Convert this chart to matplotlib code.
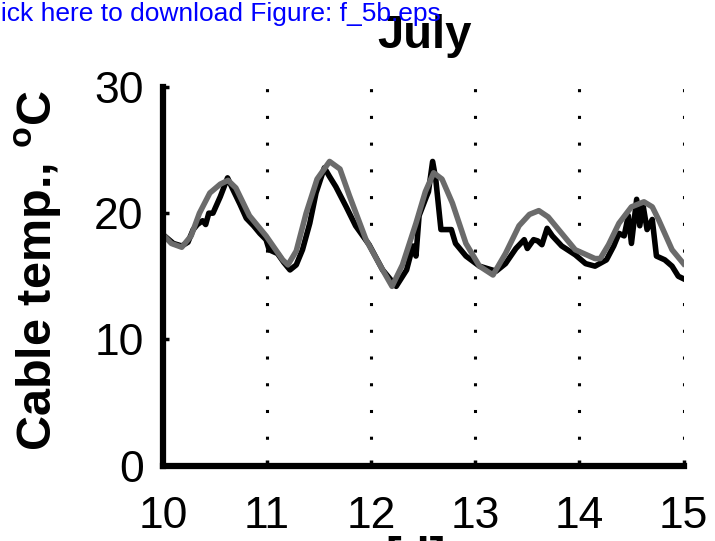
"""Cable temperature in July: measured vs. modelled."""
import numpy as np
import matplotlib
matplotlib.use("Agg")
import matplotlib.pyplot as plt

# =============================================================================
# DATA
# =============================================================================
# measured cable temperature (black)
day_meas = [10.00, 10.10, 10.18, 10.24, 10.29, 10.33, 10.38, 10.41, 10.44,
            10.48, 10.55, 10.62, 10.67, 10.74, 10.80, 10.87, 10.93, 10.99,
            11.02, 11.10, 11.16, 11.22, 11.28, 11.34, 11.41, 11.47, 11.55,
            11.60, 11.66, 11.76, 11.85, 11.98, 12.11, 12.24, 12.34, 12.40,
            12.43, 12.46, 12.53, 12.55, 12.59, 12.62, 12.67, 12.77, 12.81,
            12.91, 13.04, 13.20, 13.29, 13.39, 13.47, 13.50, 13.56, 13.60,
            13.64, 13.69, 13.74, 13.83, 13.96, 14.06, 14.15, 14.26, 14.33,
            14.38, 14.43, 14.47, 14.50, 14.55, 14.58, 14.61, 14.65, 14.70,
            14.74, 14.82, 14.89, 14.95, 15.00]
temp_meas = [18.3, 17.6, 17.4, 17.7, 18.7, 19.1, 19.4, 19.1, 20.0,
             20.0, 21.3, 22.8, 21.9, 20.7, 19.6, 19.0, 18.4, 17.9,
             17.1, 16.8, 16.1, 15.5, 15.9, 17.1, 19.2, 21.6, 23.6,
             22.9, 22.1, 20.5, 19.0, 17.5, 15.5, 14.2, 15.5, 17.4,
             16.6, 19.8, 21.3, 21.7, 24.1, 22.7, 18.7, 18.7, 17.6,
             16.6, 15.8, 15.4, 16.0, 17.2, 17.9, 17.2, 17.9, 17.8,
             17.5, 18.8, 18.2, 17.4, 16.7, 16.0, 15.8, 16.3, 17.4,
             18.4, 18.2, 19.8, 17.6, 21.1, 19.0, 20.7, 18.7, 19.5,
             16.6, 16.3, 15.8, 15.0, 14.8]

# modelled cable temperature (grey)
day_model = [10.00, 10.08, 10.18, 10.27, 10.35, 10.45, 10.55, 10.625,
             10.70, 10.83, 10.99, 11.15, 11.20, 11.28, 11.375, 11.48,
             11.60, 11.70, 11.79, 11.95, 12.11, 12.20, 12.30, 12.43,
             12.52, 12.60, 12.68, 12.78, 12.91, 13.04, 13.17, 13.29,
             13.42, 13.52, 13.61, 13.70, 13.80, 13.96, 14.15, 14.20,
             14.28, 14.38, 14.50, 14.62, 14.70, 14.76, 14.89, 15.00]
temp_model = [18.3, 17.6, 17.3, 18.2, 20.0, 21.6, 22.3, 22.6,
              22.0, 19.8, 18.2, 16.3, 15.9, 17.0, 20.0, 22.7,
              24.1, 23.5, 21.4, 17.9, 15.5, 14.2, 15.9, 19.2,
              21.7, 23.2, 22.7, 20.8, 17.6, 15.8, 15.1, 16.8,
              19.0, 19.9, 20.2, 19.7, 18.7, 17.1, 16.4, 16.4,
              17.5, 19.2, 20.5, 20.9, 20.5, 19.5, 17.1, 16.0]

x_ticks = [10, 11, 12, 13, 14, 15]
y_ticks = [0, 10, 20, 30]

# =============================================================================
# PLOT
# =============================================================================
W, H = 715, 541
plt.rcParams['font.family'] = ['Liberation Sans', 'DejaVu Sans']
plt.rcParams['mathtext.fontset'] = 'custom'
plt.rcParams['mathtext.bf'] = 'Liberation Sans:bold'
plt.rcParams['mathtext.rm'] = 'Liberation Sans'

fig = plt.figure(figsize=(W / 100, H / 100), dpi=100)
ax = fig.add_axes([163 / W, 1 - 465.5 / H, 520.5 / W, 378.5 / H])
ax.plot(day_meas, temp_meas, color='black', lw=4, solid_joinstyle='round')
ax.plot(day_model, temp_model, color='#6b6b6b', lw=4, solid_joinstyle='round')

ax.set_xlim(10, 15)
ax.set_ylim(0, 30)
ax.set_xticks(x_ticks)
ax.set_yticks(y_ticks)
ax.tick_params(direction='in', length=4, width=2.5, labelsize=32)
ax.tick_params(axis='x', pad=22)
ax.tick_params(axis='y', pad=14)

# dotted vertical grid like the original
for xt in x_ticks[1:]:
    ax.axvline(xt, color='black', lw=2.2, ls=(0, (1, 7.75)),
               dash_capstyle='butt', zorder=0)

for side in ['top', 'right']:
    ax.spines[side].set_visible(False)
for side in ['left', 'bottom']:
    ax.spines[side].set_linewidth(4.5)
    ax.spines[side].set_capstyle('projecting')

ax.set_ylabel(r"Cable temp., $^{\mathbf{o}}$C", fontsize=35, fontweight='bold')
ax.yaxis.label.set_va('baseline')
ax.yaxis.set_label_coords(-(163 - 52) / 520.5, (465.5 - 271) / 378.5)
ax.set_xlabel("[d]", fontsize=34, fontweight='bold')
ax.xaxis.label.set_va('top')
ax.xaxis.set_label_coords((416 - 163) / 520.5, -(536 - 465.5) / 378.5)

fig.text(424 / W, 1 - 48 / H, "July", fontsize=34, fontweight='bold',
         ha='center', va='baseline')
fig.text(441 / W, 1 - 21 / H, "Click here to download Figure: f_5b.eps",
         fontsize=19, color='blue', ha='right', va='baseline')

fig.savefig("out.png", dpi=100)
